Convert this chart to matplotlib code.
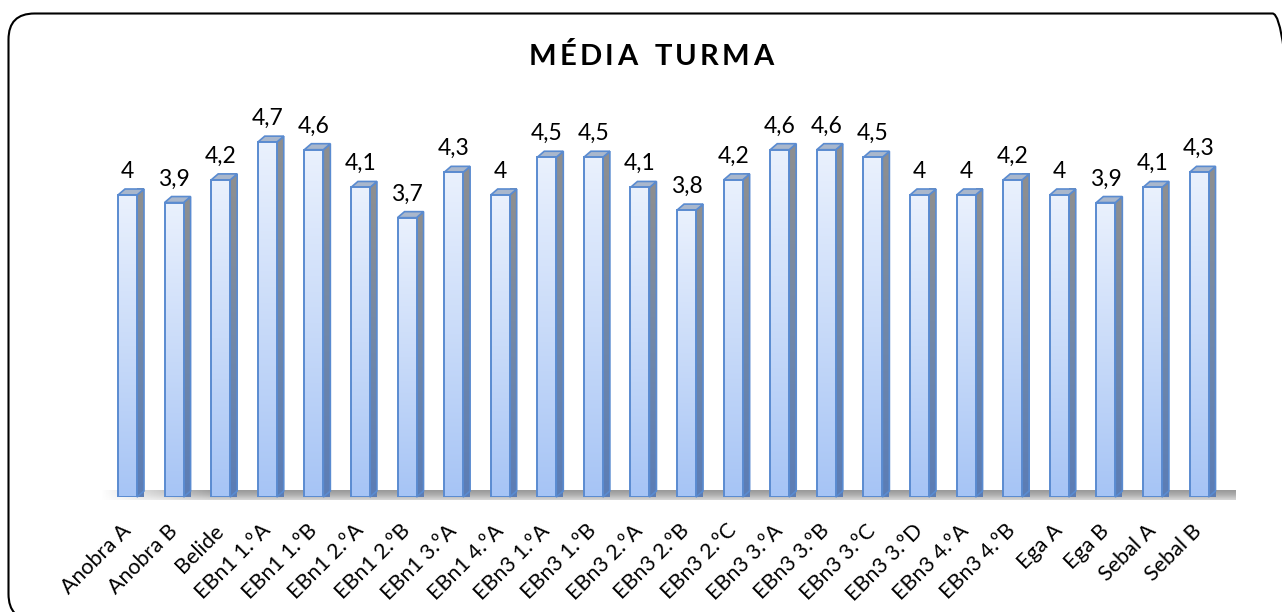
import numpy as np
import matplotlib
matplotlib.use("Agg")
import matplotlib.pyplot as plt
from matplotlib.patches import Polygon, FancyBboxPatch
from matplotlib.transforms import IdentityTransform
from matplotlib.colors import LinearSegmentedColormap

categories = ["Anobra A", "Anobra B", "Belide", "EBn1 1.ºA", "EBn1 1.ºB", "EBn1 2.ºA",
              "EBn1 2.ºB", "EBn1 3.ºA", "EBn1 4.ºA", "EBn3 1.ºA", "EBn3 1.ºB", "EBn3 2.ºA",
              "EBn3 2.ºB", "EBn3 2.ºC", "EBn3 3.ºA", "EBn3 3.ºB", "EBn3 3.ºC", "EBn3 3.ºD",
              "EBn3 4.ºA", "EBn3 4.ºB", "Ega A", "Ega B", "Sebal A", "Sebal B"]
values = [4.0, 3.9, 4.2, 4.7, 4.6, 4.1, 3.7, 4.3, 4.0, 4.5, 4.5, 4.1,
          3.8, 4.2, 4.6, 4.6, 4.5, 4.0, 4.0, 4.2, 4.0, 3.9, 4.1, 4.3]
title = "MÉDIA TURMA"

FONT = ["Lato", "DejaVu Sans"]
plt.rcParams["font.family"] = FONT

W, H = 1282, 612
DPI = 100
fig = plt.figure(figsize=(W / DPI, H / DPI), dpi=DPI)

n = len(values)
x0_px, step_px = 127.5, (1199 - 127.5) / (n - 1)
base_px, unit_px = 497, 75.5
ax_left, ax_right, ax_top = 90, 1250, 100
ax = fig.add_axes([ax_left / W, (H - base_px) / H, (ax_right - ax_left) / W, (base_px - ax_top) / H])
ax.set_xlim((ax_left - x0_px) / step_px, (ax_right - x0_px) / step_px)
ax.set_ylim(0, (base_px - ax_top) / unit_px)
for s in ax.spines.values():
    s.set_visible(False)
ax.set_yticks([])

bw = 19 / step_px
dx = 7 / step_px
dy = 6 / unit_px
x = np.arange(n)

# floor (shadow plane)
floor_cmap = LinearSegmentedColormap.from_list("floor", ["#999999", "#b0b0b0", "#d6d6d6"])
fl = (100 - x0_px) / step_px
fr = (1226 - x0_px) / step_px
fy0 = -3 / unit_px
fdx, fdy = 10 / step_px, 10 / unit_px
floor = Polygon([(fl, fy0), (fr, fy0), (fr + fdx, fy0 + fdy), (fl + fdx, fy0 + fdy)], closed=True,
                facecolor="none", edgecolor="none", clip_on=False, zorder=1)
ax.add_patch(floor)
gx = np.linspace(0, 1, 400)
gy = np.linspace(0, 1, 20)
GX, GY = np.meshgrid(gx, gy)
fade = np.clip(GX * 400 / 40, 0, 1)
rgba = floor_cmap(GY)
rgba[..., 3] = fade
im = ax.imshow(rgba, extent=[fl, fr + fdx, fy0, fy0 + fdy],
               origin="upper", aspect="auto", zorder=1, clip_on=False)
im.set_clip_path(floor)

front_cmap = LinearSegmentedColormap.from_list("front", ["#a6c4f5", "#c9dbf9", "#eaf1fd"])
side_cmap = LinearSegmentedColormap.from_list("side", ["#5b7db6", "#7288a8", "#8f8f8f"])
edge = "#5a8bd0"

grad = np.linspace(0, 1, 256).reshape(-1, 1)
for i, v in zip(x, values):
    l, r = i - bw / 2, i + bw / 2
    side = Polygon([(r, 0), (r + dx, dy), (r + dx, v + dy), (r, v)], closed=True,
                   facecolor="none", edgecolor=edge, lw=1.2, zorder=3, clip_on=False)
    ax.add_patch(side)
    si = ax.imshow(grad, cmap=side_cmap, extent=[r, r + dx, 0, v + dy], origin="lower",
                   aspect="auto", zorder=2.9, clip_on=False)
    si.set_clip_path(side)
    top = Polygon([(l, v), (r, v), (r + dx, v + dy), (l + dx, v + dy)], closed=True,
                  facecolor="#a9b7cc", edgecolor=edge, lw=1.2, zorder=3, clip_on=False)
    ax.add_patch(top)
    fb = ax.bar(i, v, width=bw, facecolor="none", edgecolor=edge, lw=1.4, zorder=4)[0]
    fi = ax.imshow(grad, cmap=front_cmap, extent=[l, r, 0, v], origin="lower",
                   aspect="auto", zorder=3.9)
    fi.set_clip_path(fb)
    lab = ("%.1f" % v).replace(".", ",")
    if lab.endswith(",0"):
        lab = lab[:-2]
    ax.annotate(lab, xy=(i, v + dy), xytext=(0, 8), textcoords="offset points",
                ha="center", va="baseline", fontsize=16.5, color="#000000", zorder=5)

ax.set_xticks(x)
ax.set_xticklabels(categories, fontsize=15.5)
ax.tick_params(axis="x", length=0, pad=22)
for t in ax.get_xticklabels():
    t.set_rotation(45)
    t.set_ha("right")
    t.set_va("center")
    t.set_rotation_mode("anchor")

# title with letter spacing
renderer = fig.canvas.get_renderer()
ty = H - 65
spacing = 3.2
chars = list(title)
widths = []
for ch in chars:
    if ch == " ":
        widths.append(11)
        continue
    t = fig.text(0, 0, ch, fontsize=21, fontweight="bold", transform=IdentityTransform())
    widths.append(t.get_window_extent(renderer).width)
    t.remove()
total = sum(widths) + spacing * (len(chars) - 1)
xpos = 651 - total / 2
for ch, w in zip(chars, widths):
    if ch != " ":
        fig.text(xpos, ty, ch, fontsize=21, fontweight="bold", color="#000000",
                 transform=IdentityTransform(), ha="left", va="baseline")
    xpos += w + spacing

border = FancyBboxPatch((8.5, -8), 1290, H - 13.5 + 8, boxstyle="round,pad=0,rounding_size=26",
                        transform=IdentityTransform(), facecolor="none", edgecolor="black",
                        lw=1.5, zorder=10)
fig.add_artist(border)

fig.savefig("out.png", dpi=DPI)
